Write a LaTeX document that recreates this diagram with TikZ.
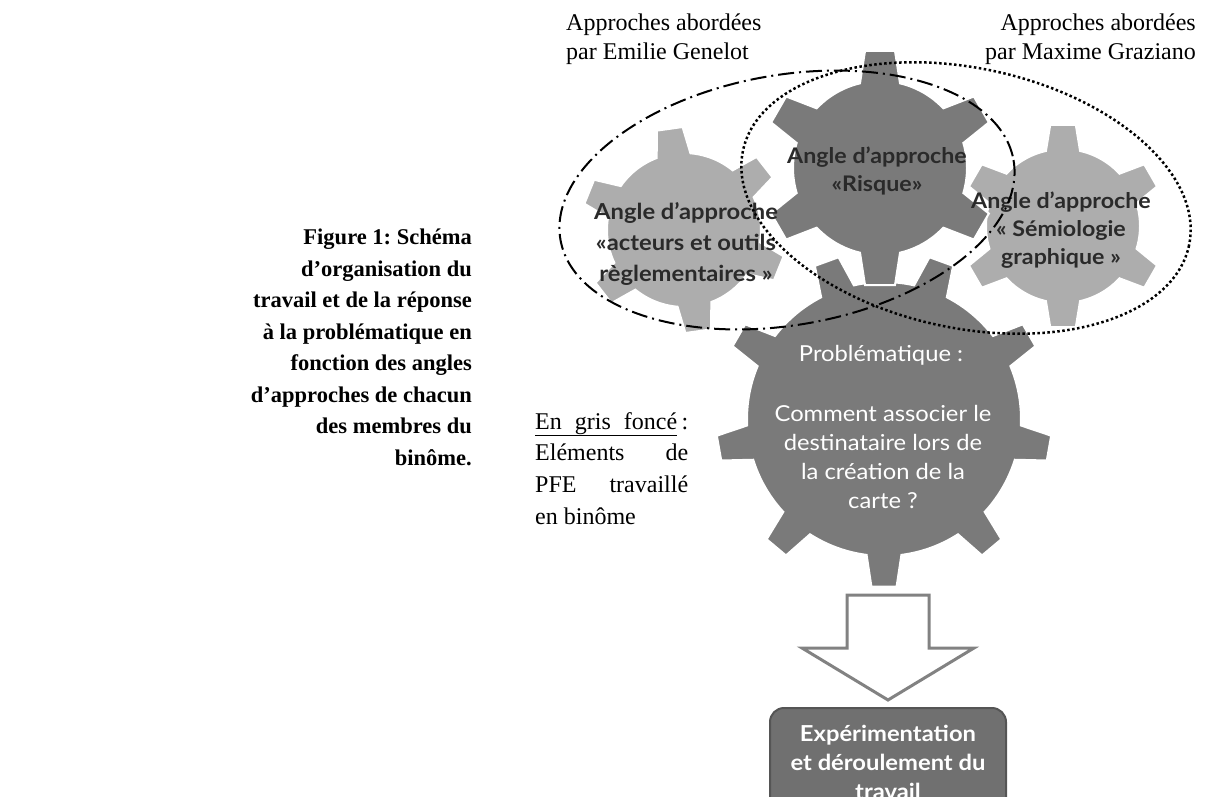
\documentclass[tikz,border=0pt]{standalone}
\usepackage{fontspec}
\newfontfamily\tnr{Liberation Serif}
\newfontfamily\gearfont[FakeStretch=1.08]{Lato}
\usetikzlibrary{calc}
\frenchspacing
\definecolor{darkgear}{HTML}{7A7A7A}
\definecolor{lightgear}{HTML}{ADADAD}
\definecolor{gtext}{HTML}{2A2A2A}
\definecolor{boxfill}{HTML}{707070}
\definecolor{boxline}{HTML}{555555}
\definecolor{arrowline}{HTML}{828282}
% #1 style, #2 cx, #3 cy, #4 teeth, #5 inner r, #6 outer r, #7 angle of first tooth, #8 base half-angle, #9 tip half-angle
\newcommand{\drawgear}[9]{%
  \pgfmathsetmacro{\gst}{360/#4}%
  \pgfmathtruncatemacro{\gnm}{#4-1}%
  \begin{scope}[shift={(#2,#3)}]
  \path[#1] ({#7-#8}:#5pt)
    \foreach \gi in {0,...,\gnm}{
      -- ({#7+\gi*\gst-#9}:#6pt) -- ({#7+\gi*\gst+#9}:#6pt) -- ({#7+\gi*\gst+#8}:#5pt)
      \foreach \gk in {1,...,12}{ -- ({#7+\gi*\gst+#8+\gk*(\gst-2*#8)/12}:#5pt) }
    } -- cycle;
  \end{scope}}
\tikzset{
 gearD/.style={fill=darkgear, draw=white, line width=2pt},
 gearL/.style={fill=lightgear, draw=white, line width=2pt},
 geartext/.style={font=\gearfont\bfseries\fontsize{21.5}{28}\selectfont, text=gtext, align=center, inner sep=0pt},
 geartextB/.style={font=\gearfont\bfseries\fontsize{22}{31}\selectfont, text=gtext, align=center, inner sep=0pt},
 probtext/.style={font=\gearfont\fontsize{22}{29}\selectfont, text=white, align=center, inner sep=0pt},
 tnrtext/.style={font=\tnr\fontsize{24}{30}\selectfont, inner sep=0pt},
 captext/.style={font=\tnr\bfseries\fontsize{22.5}{31.5}\selectfont, align=right, inner sep=0pt},
 dashdotellipse/.style={draw=black, line width=2pt, dash pattern=on 16pt off 5pt on 2pt off 5pt},
 dottedellipse/.style={draw=black, line width=2.5pt, dash pattern=on 2.5pt off 2.5pt},
 blockarrow/.style={draw=arrowline, fill=white, line width=3pt, line join=miter},
 resultbox/.style={fill=boxfill, draw=boxline, line width=2pt, rounded corners=14pt,
   minimum width=236pt, minimum height=108pt, inner sep=0pt, text=white, align=center,
   font=\gearfont\bfseries\fontsize{22}{29}\selectfont},
}
\begin{document}
\begin{tikzpicture}[x=1pt,y=-1pt]
\useasboundingbox (0,0) rectangle (1205,796);
% gears
\drawgear{gearD}{884}{419}{9}{137}{168}{270}{7.3}{4.3}
\drawgear{gearL}{684}{230}{6}{77}{103}{98}{12.8}{7.2}
\drawgear{gearL}{1063}{226}{6}{77}{102}{90}{12.8}{7.2}
\drawgear{gearD}{880}{168}{6}{87}{118}{90}{13.3}{7.3}
% gear texts
\node[geartext] (tRisque) at (877,171) {Angle d’approche\\«Risque»};
\node[geartextB] (tActeurs) at (686,244) {Angle d’approche\\«acteurs et outils\\règlementaires »};
\node[geartext] (tSemio) at (1061,230) {Angle d’approche\\« Sémiologie\\graphique »};
\node[probtext] (tProb) at (881,355) {Problématique :};
\node[probtext] (tQuestion) at (883,457) {Comment associer le\\destinataire lors de\\la création de la\\carte ?};
% ellipses
\draw[dashdotellipse, rotate around={10:(787,200)}] (787,200) ellipse [x radius=230, y radius=125];
\draw[dottedellipse, rotate around={-12:(966,198)}] (966,198) ellipse [x radius=228, y radius=130];
% headings
\node[tnrtext, anchor=base west] (emilie1) at (566,30) {Approches abordées};
\node[tnrtext, anchor=base west] (emilie2) at (566,59) {par Emilie Genelot};
\node[tnrtext, anchor=base east] (maxime1) at (1196,30) {Approches abordées};
\node[tnrtext, anchor=base east] (maxime2) at (1196,59) {par Maxime Graziano};
% legend
\node[tnrtext, anchor=base west] (leg1) at (535,429) {\makebox[153pt][l]{\underline{\makebox[142pt][s]{En gris foncé}}\hfill:}};
\node[tnrtext, anchor=base west] (leg2) at (535,460) {\makebox[153pt][s]{Eléments de}};
\node[tnrtext, anchor=base west] (leg3) at (535,492) {\makebox[153pt][s]{PFE travaillé}};
\node[tnrtext, anchor=base west] (leg4) at (535,524) {en binôme};
% caption
\node[captext, anchor=north east] (caption) at (472,229) {Figure 1: Schéma\\d’organisation du\\travail et de la réponse\\à la problématique en\\fonction des angles\\d’approches de chacun\\des membres du\\binôme.};
% arrow and result
\coordinate (arrowtop) at (888,595);
\draw[blockarrow] (arrowtop) ++(-41,0) -- ++(82,0) -- ++(0,53) -- ++(45,0) -- ++(-86,52) -- ++(-86,-52) -- ++(45,0) -- cycle;
\node[resultbox] (result) at (888,762) {Expérimentation\\et déroulement du\\travail};
\end{tikzpicture}
\end{document}
